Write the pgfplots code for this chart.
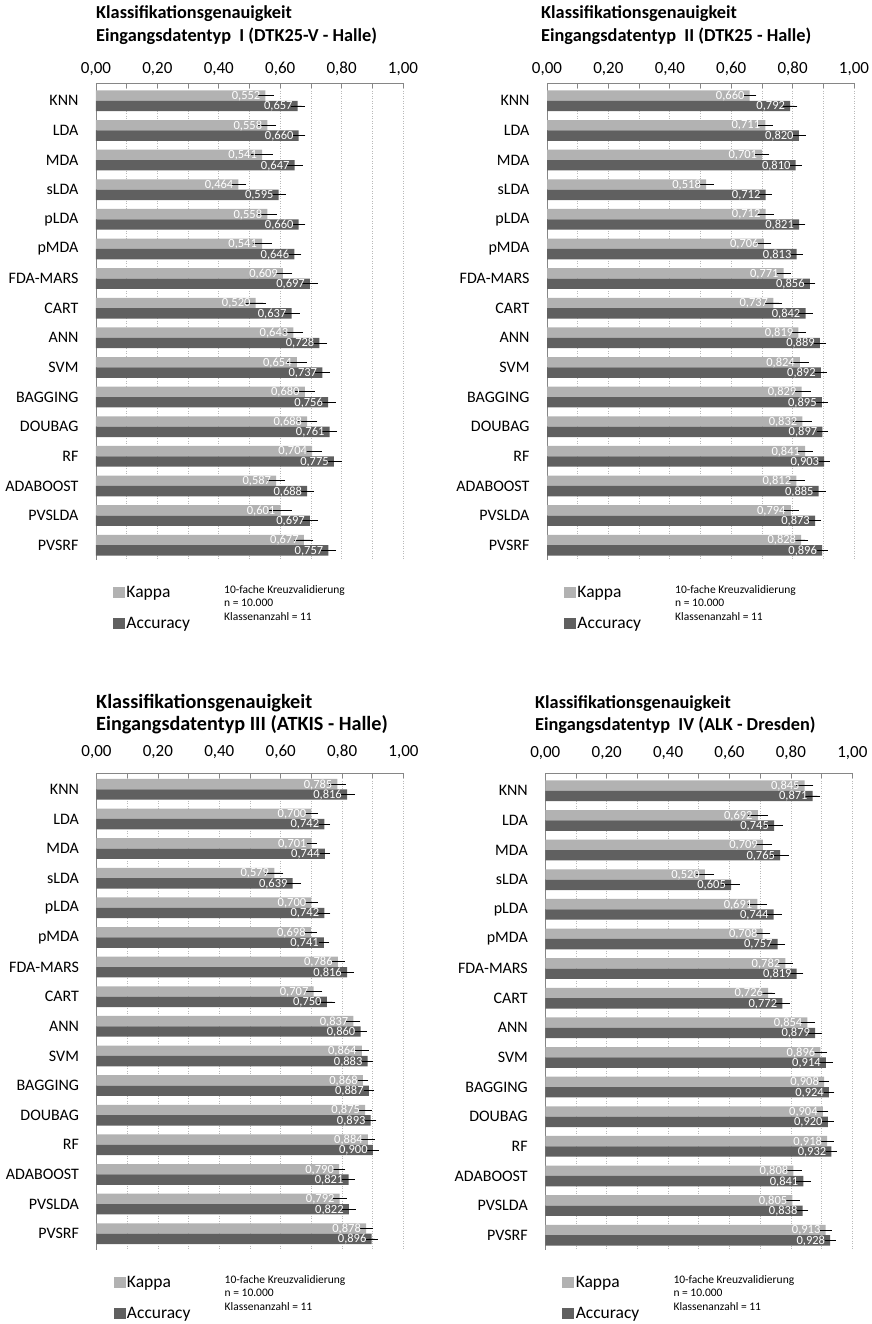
\documentclass[border=0pt]{standalone}
\usepackage{fontspec}
\setmainfont{Carlito}
\usepackage{pgfplots}
\usepackage{pgfplotstable}
\pgfplotsset{compat=1.18}
\definecolor{kappa}{RGB}{178,178,178}
\definecolor{accu}{RGB}{96,96,96}
\definecolor{gridc}{RGB}{185,185,185}
\definecolor{axisc}{RGB}{134,134,134}

\pgfplotstableread{
idx kap kerr acc aerr
0 0.552 0.018 0.657 0.0125
1 0.558 0.019 0.660 0.012
2 0.541 0.025 0.647 0.016
3 0.464 0.015 0.595 0.013
4 0.558 0.021 0.660 0.012
5 0.541 0.021 0.646 0.013
6 0.609 0.021 0.697 0.015
7 0.520 0.024 0.637 0.017
8 0.643 0.022 0.728 0.015
9 0.654 0.022 0.737 0.015
10 0.680 0.023 0.756 0.015
11 0.688 0.023 0.761 0.015
12 0.704 0.022 0.775 0.015
13 0.587 0.019 0.688 0.013
14 0.601 0.027 0.697 0.017
15 0.677 0.021 0.757 0.015
}\tabA
\pgfplotstableread{
idx kap kerr acc aerr
0 0.660 0.0125 0.792 0.0135
1 0.711 0.015 0.820 0.0125
2 0.701 0.0135 0.810 0.010
3 0.518 0.016 0.712 0.011
4 0.712 0.017 0.821 0.011
5 0.706 0.015 0.813 0.010
6 0.771 0.0125 0.856 0.008
7 0.737 0.019 0.842 0.0135
8 0.819 0.015 0.889 0.010
9 0.824 0.018 0.892 0.010
10 0.829 0.020 0.895 0.009
11 0.832 0.020 0.897 0.009
12 0.841 0.015 0.903 0.008
13 0.812 0.018 0.885 0.0125
14 0.794 0.017 0.873 0.010
15 0.828 0.0125 0.896 0.008
}\tabB
\pgfplotstableread{
idx kap kerr acc aerr
0 0.785 0.017 0.816 0.015
1 0.700 0.011 0.742 0.009
2 0.701 0.0065 0.744 0.007
3 0.579 0.020 0.639 0.018
4 0.700 0.011 0.742 0.010
5 0.698 0.009 0.741 0.008
6 0.786 0.0135 0.816 0.012
7 0.707 0.019 0.750 0.018
8 0.837 0.013 0.860 0.011
9 0.864 0.0125 0.883 0.009
10 0.868 0.008 0.887 0.0075
11 0.875 0.0125 0.893 0.009
12 0.884 0.0125 0.900 0.010
13 0.790 0.011 0.821 0.011
14 0.792 0.0135 0.822 0.012
15 0.878 0.013 0.896 0.010
}\tabC
\pgfplotstableread{
idx kap kerr acc aerr
0 0.845 0.018 0.871 0.015
1 0.692 0.022 0.745 0.018
2 0.709 0.020 0.765 0.019
3 0.520 0.020 0.605 0.019
4 0.691 0.022 0.744 0.017
5 0.708 0.015 0.757 0.014
6 0.782 0.0135 0.819 0.012
7 0.726 0.0135 0.772 0.015
8 0.854 0.015 0.879 0.0135
9 0.896 0.012 0.914 0.0125
10 0.908 0.007 0.924 0.008
11 0.904 0.008 0.920 0.010
12 0.918 0.011 0.932 0.008
13 0.808 0.018 0.841 0.015
14 0.805 0.0135 0.838 0.009
15 0.913 0.010 0.928 0.008
}\tabD

\pgfplotsset{
  panel/.style={
    scale only axis, width=307pt, height=477pt,
    anchor=north west,
    xmin=0, xmax=1, y dir=reverse,
    axis x line*=top, axis y line*=left,
    axis line style={axisc, line width=0.8pt},
    xtick={0,0.2,0.4,0.6,0.8,1}, minor xtick={0.1,0.3,0.5,0.7,0.9},
    xmajorgrids, xminorgrids,
    major grid style={gridc, line width=0.7pt, dash pattern=on 1pt off 1.5pt},
    minor grid style={gridc, line width=0.7pt, dash pattern=on 1pt off 1.5pt},
    tick align=inside,
    major tick length=5pt, minor tick length=5pt,
    xtick style={axisc, line width=0.8pt},
    ytick style={draw=none},
    /pgf/number format/assume math mode=true,
    xticklabel style={/pgf/number format/fixed, /pgf/number format/fixed zerofill,
       /pgf/number format/precision=2, /pgf/number format/use comma,
       font=\fontsize{17}{20}\selectfont},
    ytick={0,...,15},
    yticklabels={KNN,LDA,MDA,sLDA,pLDA,pMDA,FDA-MARS,CART,ANN,SVM,BAGGING,DOUBAG,RF,ADABOOST,PVSLDA,PVSRF},
    yticklabel style={font=\fontsize{16}{19}\selectfont, xshift=-9pt},
    xbar=0pt, bar width=10.4pt,
    point meta=x,
    nodes near coords={\pgfmathprintnumber[fixed,fixed zerofill,precision=3,use comma]{\pgfplotspointmeta}},
    nodes near coords style={font=\fontsize{12.5}{14}\selectfont, text=white, anchor=east, inner sep=0pt, xshift=-5pt, yshift=-0.5pt},
    error bars/x dir=both, error bars/x explicit,
    error bars/error bar style={black, line width=0.8pt},
    error bars/error mark options={black, line width=0.8pt, mark size=3pt},
    legend style={draw=none, fill=none, at={(axis description cs:0.055,-0.05)}, anchor=north west,
       font=\fontsize{17.5}{20}\selectfont, row sep=14pt, inner sep=0pt, cells={anchor=west}},
    clip=false,
  },
  kapimg/.style={legend image code/.code={\fill[kappa] (0pt,-5pt) rectangle (11pt,5pt);}},
  accimg/.style={legend image code/.code={\fill[accu] (0pt,-5pt) rectangle (11pt,5pt);}},
}

\newcommand\notetext{\fontsize{11.5}{13.8}\selectfont}
\newcommand\titfont{\bfseries\fontsize{18.3}{22}\selectfont}
\newcommand\titfontb{\bfseries\fontsize{20.2}{24}\selectfont}

\begin{document}
\begin{tikzpicture}
\path[use as bounding box] (0pt,0pt) rectangle (871pt,-1324pt);

% Panel I
\begin{axis}[panel, at={(96pt,-83pt)}, ymin=-0.6, ymax=15.5, xticklabel style={yshift=4pt}]
\addlegendimage{kapimg}\addlegendentry{Kappa}
\addlegendimage{accimg}\addlegendentry{Accuracy}
\addplot[fill=kappa, draw=none, bar shift=5.2pt] table[y=idx, x=kap, x error=kerr] {\tabA};
\addplot[fill=accu, draw=none, bar shift=-5.2pt] table[y=idx, x=acc, x error=aerr] {\tabA};
\node[anchor=north west, align=left, font=\notetext, inner sep=0pt] at (axis description cs:0.417,-0.052) {10-fache Kreuzvalidierung\\n = 10.000\\Klassenanzahl = 11};
\end{axis}
\node[anchor=base west, inner sep=0pt, font=\titfont] at (96pt,-19pt) {Klassifikationsgenauigkeit};
\node[anchor=base west, inner sep=0pt, font=\titfont] at (96pt,-41.7pt) {Eingangsdatentyp\ \ I (DTK25-V - Halle)};

% Panel II
\begin{axis}[panel, at={(547pt,-83pt)}, ymin=-0.6, ymax=15.5, xticklabel style={yshift=4pt}]
\addlegendimage{kapimg}\addlegendentry{Kappa}
\addlegendimage{accimg}\addlegendentry{Accuracy}
\addplot[fill=kappa, draw=none, bar shift=5.2pt] table[y=idx, x=kap, x error=kerr] {\tabB};
\addplot[fill=accu, draw=none, bar shift=-5.2pt] table[y=idx, x=acc, x error=aerr] {\tabB};
\node[anchor=north west, align=left, font=\notetext, inner sep=0pt] at (axis description cs:0.417,-0.052) {10-fache Kreuzvalidierung\\n = 10.000\\Klassenanzahl = 11};
\end{axis}
\node[anchor=base west, inner sep=0pt, font=\titfont] at (541pt,-19pt) {Klassifikationsgenauigkeit};
\node[anchor=base west, inner sep=0pt, font=\titfont] at (541pt,-41.7pt) {Eingangsdatentyp\ \ II (DTK25 - Halle)};

% Panel III
\begin{axis}[panel, at={(96.5pt,-773pt)}, ymin=-0.55, ymax=15.55, xticklabel style={yshift=11pt}]
\addlegendimage{kapimg}\addlegendentry{Kappa}
\addlegendimage{accimg}\addlegendentry{Accuracy}
\addplot[fill=kappa, draw=none, bar shift=5.2pt] table[y=idx, x=kap, x error=kerr] {\tabC};
\addplot[fill=accu, draw=none, bar shift=-5.2pt] table[y=idx, x=acc, x error=aerr] {\tabC};
\node[anchor=north west, align=left, font=\notetext, inner sep=0pt] at (axis description cs:0.417,-0.052) {10-fache Kreuzvalidierung\\n = 10.000\\Klassenanzahl = 11};
\end{axis}
\node[anchor=base west, inner sep=0pt, font=\titfontb] at (96pt,-708.3pt) {Klassifikationsgenauigkeit};
\node[anchor=base west, inner sep=0pt, font=\titfontb] at (96pt,-730.7pt) {Eingangsdatentyp III (ATKIS - Halle)};

% Panel IV
\begin{axis}[panel, at={(545.3pt,-773pt)}, ymin=-0.6, ymax=15.5, xticklabel style={yshift=9.5pt}]
\addlegendimage{kapimg}\addlegendentry{Kappa}
\addlegendimage{accimg}\addlegendentry{Accuracy}
\addplot[fill=kappa, draw=none, bar shift=5.2pt] table[y=idx, x=kap, x error=kerr] {\tabD};
\addplot[fill=accu, draw=none, bar shift=-5.2pt] table[y=idx, x=acc, x error=aerr] {\tabD};
\node[anchor=north west, align=left, font=\notetext, inner sep=0pt] at (axis description cs:0.417,-0.052) {10-fache Kreuzvalidierung\\n = 10.000\\Klassenanzahl = 11};
\end{axis}
\node[anchor=base west, inner sep=0pt, font=\titfont] at (535pt,-708.3pt) {Klassifikationsgenauigkeit};
\node[anchor=base west, inner sep=0pt, font=\titfont] at (535pt,-730pt) {Eingangsdatentyp\ \ IV (ALK - Dresden)};

\end{tikzpicture}
\end{document}
